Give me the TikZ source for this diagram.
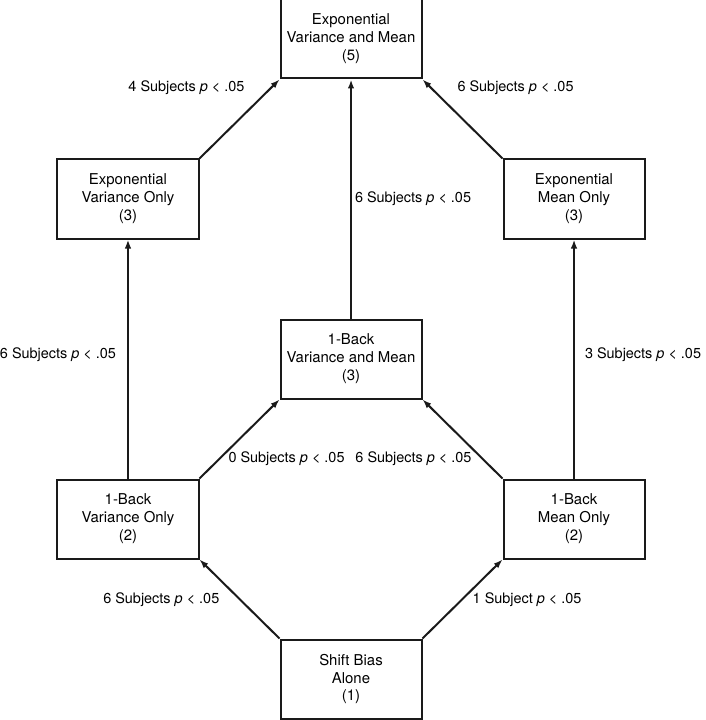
\documentclass[tikz,border=0pt]{standalone}
\usepackage{fontspec}
\setmainfont{TeX Gyre Heros}
\usepackage{xcolor}
\usepackage{tikz}
\usetikzlibrary{
  arrows.meta,
  positioning
}
\definecolor{LineBlack}{HTML}{1A1A1A}
\tikzset{
  model/.style={
    draw=LineBlack,
    line width=2bp,
    align=center,
    minimum width=141bp,
    minimum height=79bp,
    inner sep=2bp,
    font=\fontsize{15}{18}\selectfont
  },
  connection/.style={
    -{Latex[length=9bp,width=6.5bp]},
    draw=LineBlack,
    line width=2bp
  },
  count/.style={
    inner sep=0pt,
    font=\fontsize{14.5}{18}\selectfont
  }
}

\begin{document}
\begin{tikzpicture}[
  x=1bp,
  y=1bp,
  node distance=79bp and 80bp
]

  \useasboundingbox (0,0) rectangle (706,-720);

  \node[
    model
  ] (backboth) at (351,-359) {
    1-Back\\Variance and Mean\\(3)
  };

  \node[
    model,
    above left=of backboth
  ] (expvar) {
    Exponential\\Variance Only\\(3)
  };

  \node[
    model,
    above right=of backboth
  ] (expmean) {
    Exponential\\Mean Only\\(3)
  };

  \node[
    model,
    above right=of expvar
  ] (expboth) {
    Exponential\\Variance and Mean\\(5)
  };

  \node[
    model,
    below left=of backboth
  ] (backvar) {
    1-Back\\Variance Only\\(2)
  };

  \node[
    model,
    below right=of backboth
  ] (backmean) {
    1-Back\\Mean Only\\(2)
  };

  \node[
    model,
    below right=of backvar
  ] (shift) {
    Shift Bias\\Alone\\(1)
  };

  \draw[connection]
  (shift.north west) --
  node[count, pos=0.49, left=20bp] {6 Subjects \textit{p} < .05}
  (backvar.south east);

  \draw[connection]
  (shift.north east) --
  node[count, pos=0.49, right=10bp] {1 Subject \textit{p} < .05}
  (backmean.south west);

  \draw[connection]
  (backvar.north east) --
  node[count, pos=0.25, right=8bp] {0 Subjects \textit{p} < .05}
  (backboth.south west);

  \draw[connection]
  (backmean.north west) --
  node[count, pos=0.25, left=10bp] {6 Subjects \textit{p} < .05}
  (backboth.south east);

  \draw[connection]
  (backvar) --
  node[count, pos=0.52, left=11bp] {6 Subjects \textit{p} < .05}
  (expvar);

  \draw[connection]
  (backmean) --
  node[count, pos=0.52, right=10bp] {3 Subjects \textit{p} < .05}
  (expmean);

  \draw[connection]
  (backboth) --
  node[count, pos=0.5, right=3bp] {6 Subjects \textit{p} < .05}
  (expboth);

  \draw[connection]
  (expvar.north east) --
  node[count, pos=0.9, left=26bp] {4 Subjects \textit{p} < .05}
  (expboth.south west);

  \draw[connection]
  (expmean.north west) --
  node[count, pos=0.9, right=26bp] {6 Subjects \textit{p} < .05}
  (expboth.south east);

\end{tikzpicture}
\end{document}
